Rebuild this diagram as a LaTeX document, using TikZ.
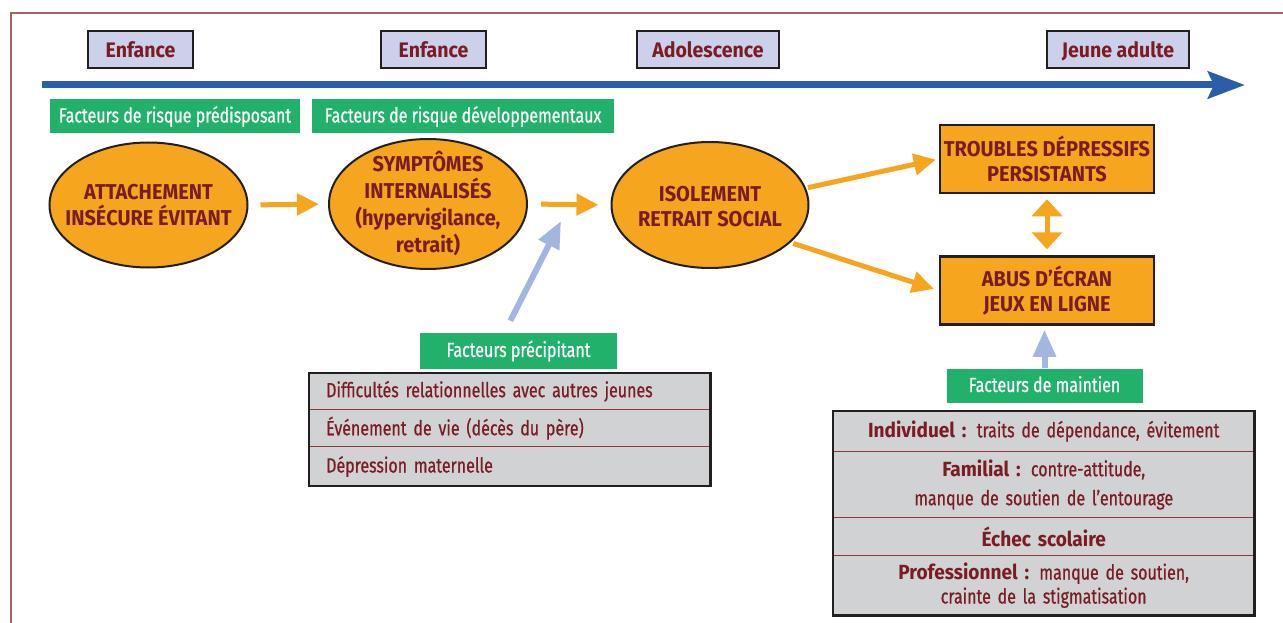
\documentclass[tikz,border=0pt]{standalone}
\usepackage{fontspec}
\setmainfont{Fira Sans}[UprightFeatures={FakeStretch=0.78, FakeBold=0.6},
  BoldFeatures={FakeStretch=0.93}]
\usetikzlibrary{shapes.geometric}
\usetikzlibrary{arrows.meta}

% Colours of the chart
\definecolor{txtred}{RGB}{122,28,36}
\definecolor{agefill}{RGB}{204,208,234}
\definecolor{factgreen}{RGB}{34,177,106}
\definecolor{stageorange}{RGB}{246,165,30}
\definecolor{timeblue}{RGB}{42,94,168}
\definecolor{pushblue}{RGB}{162,182,224}
\definecolor{tablegray}{RGB}{209,210,212}
\definecolor{rowline}{RGB}{150,55,60}
\definecolor{framerose}{RGB}{168,96,100}
\definecolor{darkline}{RGB}{35,31,32}

\tikzset{
  agebox/.style={draw=darkline, line width=2pt, fill=agefill, text=txtred,
    font=\bfseries\fontsize{21}{24}\selectfont, minimum height=37pt, inner sep=0pt,
    text height=19pt, text depth=2pt},
  factbox/.style={fill=factgreen, text=white,
    font=\fontsize{20.5}{22}\selectfont, minimum height=34pt, inner sep=0pt,
    text height=16pt, text depth=3pt},
  stagebub/.style={ellipse, draw=darkline, line width=2pt, fill=stageorange, inner sep=0pt},
  stagetext/.style={text=txtred, align=center, font=\bfseries\fontsize{21.5}{26}\selectfont},
  outbox/.style={draw=darkline, line width=2.5pt, fill=stageorange, text=txtred,
    align=center, font=\bfseries\fontsize{21.5}{25}\selectfont,
    minimum width=214pt, minimum height=68pt, inner sep=0pt},
  flowarrow/.style={draw=stageorange, line width=5pt, -{Triangle[length=22pt,width=21pt]}},
  botharrow/.style={draw=stageorange, line width=5pt,
    {Triangle[length=17pt,width=30pt]}-{Triangle[length=17pt,width=30pt]}},
  pusharrow/.style={draw=pushblue, line width=6pt, -{Triangle[length=27pt,width=22pt]}},
  precrow/.style={fill=tablegray, text=txtred, font=\fontsize{20.5}{22}\selectfont,
    text width=367pt, align=left, inner xsep=17pt, inner ysep=0pt, anchor=north west},
  maintrow/.style={fill=tablegray, text=txtred, font=\fontsize{20.5}{22}\selectfont,
    text width=401pt, align=center, inner xsep=10pt, inner ysep=0pt, anchor=north west},
  tableframe/.style={draw=darkline, line width=2.5pt},
  rowsep/.style={draw=rowline, line width=1.2pt}
}

\begin{document}
\begin{tikzpicture}[x=1pt, y=-1pt]

  \useasboundingbox (0,0) rectangle (1283,623);

  % Page frame (top and left rule only)
  \draw[framerose, line width=1.5pt] (11,623) -- (11,13) -- (1283,13);

  % --- Time line ---
  \coordinate (tl0) at (42,85);
  \coordinate (tl1) at (1245,85);
  \draw[timeblue, line width=7pt, -{Stealth[length=37pt,width=27pt,inset=6pt]}] (tl0) -- (tl1);

  \node[agebox, minimum width=105pt] (age1) at (140.5,49.5) {Enfance};
  \node[agebox, minimum width=105pt] (age2) at (433.5,49.5) {Enfance};
  \node[agebox, minimum width=142pt] (age3) at (708,49.5) {Adolescence};
  \node[agebox, minimum width=142pt] (age4) at (1118,49.5) {Jeune adulte};

  % Risk factor headings
  \node[factbox, minimum width=250pt] (predis) at (175,116) {Facteurs de risque prédisposant};
  \node[factbox, minimum width=302pt] (devel) at (463,116) {Facteurs de risque développementaux};

  % --- Stages (ellipses) ---
  \node[stagebub, minimum width=198pt, minimum height=125pt] (att) at (148.5,205) {};
  \node[stagetext] (atttxt) at (att) {ATTACHEMENT\\INSÉCURE ÉVITANT};

  \node[stagebub, minimum width=198pt, minimum height=130pt] (sym) at (428,204) {};
  \node[stagetext, font=\bfseries\fontsize{21.5}{27}\selectfont] (symtxt) at (sym)
    {SYMPTÔMES\\INTERNALISÉS\\(hypervigilance,\\retrait)};

  \node[stagebub, minimum width=197pt, minimum height=126pt] (iso) at (710,205) {};
  \node[stagetext, font=\bfseries\fontsize{21.5}{25}\selectfont] (isotxt) at ([yshift=-2pt]iso.center)
    {ISOLEMENT\\RETRAIT SOCIAL};

  % --- Outcomes ---
  \node[outbox] (trou) at (1047,159) {TROUBLES DÉPRESSIFS\\PERSISTANTS};
  \node[outbox] (abus) at (1047,290.5) {ABUS D’ÉCRAN\\JEUX EN LIGNE};

  % Flow arrows
  \draw[flowarrow, shorten <=12pt, shorten >=9pt] (att.east) -- (sym.west);
  \draw[flowarrow, shorten <=13pt, shorten >=12pt] (sym.east) -- (iso.west);
  \draw[flowarrow, shorten <=2pt, shorten >=3pt] (iso.10) -- (trou.west);
  \draw[flowarrow, shorten <=3pt, shorten >=5pt] (iso.-25) -- (abus.west);
  \draw[botharrow, shorten <=5pt, shorten >=6pt] (trou.south) -- (abus.north);

  % --- Precipitating factors ---
  \node[factbox, minimum width=197pt, minimum height=36pt] (prec) at (518.5,350.5) {Facteurs précipitant};
  \coordinate (precpin) at (561,221);
  \draw[pusharrow, shorten <=13pt] ([xshift=-14pt]prec.north) -- (precpin);

  \node[precrow, minimum height=36pt] (p1) at (309,373) {Difficultés relationnelles avec autres jeunes};
  \node[precrow, minimum height=37pt] (p2) at (p1.south west) {Événement de vie (décès du père)};
  \node[precrow, minimum height=39pt] (p3) at (p2.south west) {Dépression maternelle};
  \draw[rowsep] (p1.south west) -- (p1.south east);
  \draw[rowsep] (p2.south west) -- (p2.south east);
  \draw[tableframe] (p1.north west) rectangle (p3.south east);

  % --- Maintaining factors ---
  \node[factbox, minimum width=196pt] (maint) at (1044.5,385.5) {Facteurs de maintien};
  \draw[pusharrow, shorten >=4pt] (maint.north) -- (maint.north |- abus.south);

  \node[maintrow, minimum height=40pt] (m1) at (833,411)
    {\textbf{Individuel :} traits de dépendance, évitement};
  \node[maintrow, minimum height=66pt, font=\fontsize{20.5}{29}\selectfont] (m2) at (m1.south west)
    {\textbf{Familial :} contre-attitude,\\manque de soutien de l’entourage};
  \node[maintrow, minimum height=37pt] (m3) at (m2.south west) {\textbf{Échec scolaire}};
  \node[maintrow, minimum height=60pt, font=\fontsize{20.5}{24}\selectfont] (m4) at (m3.south west)
    {\textbf{Professionnel :} manque de soutien,\\crainte de la stigmatisation};
  \draw[rowsep] (m1.south west) -- (m1.south east);
  \draw[rowsep] (m2.south west) -- (m2.south east);
  \draw[rowsep] (m3.south west) -- (m3.south east);
  \draw[tableframe] (m1.north west) rectangle (m4.south east);

\end{tikzpicture}
\end{document}
